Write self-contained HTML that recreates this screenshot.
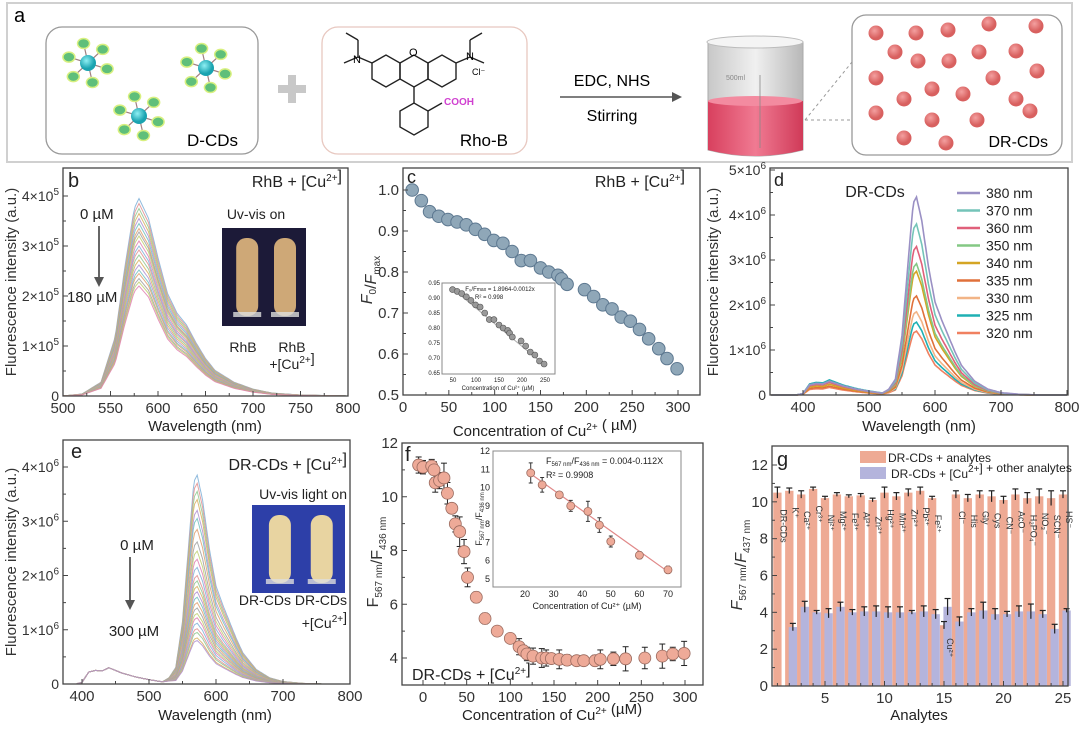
<!DOCTYPE html>
<html><head><meta charset="utf-8"><style>
html,body{margin:0;padding:0;background:#fff}
svg{display:block;font-family:"Liberation Sans",Arial,sans-serif}
</style></head><body>
<svg id="fig" width="1080" height="729" viewBox="0 0 1080 729" xmlns="http://www.w3.org/2000/svg">
<defs>
<linearGradient id="beakerG" x1="0" x2="1"><stop offset="0" stop-color="#c8c8c8"/><stop offset="0.5" stop-color="#f0f0f0"/><stop offset="1" stop-color="#b8b8b8"/></linearGradient>
<linearGradient id="pinkG" x1="0" x2="1"><stop offset="0" stop-color="#d8405e"/><stop offset="0.5" stop-color="#f07a92"/><stop offset="1" stop-color="#d03a58"/></linearGradient>
<radialGradient id="dotG" cx="0.4" cy="0.35"><stop offset="0" stop-color="#f4a0a0"/><stop offset="1" stop-color="#d8605f"/></radialGradient>
<radialGradient id="cyanG" cx="0.4" cy="0.35"><stop offset="0" stop-color="#8ff0f4"/><stop offset="1" stop-color="#1aa3b0"/></radialGradient>
</defs>
<!-- Panel a -->
<g>
<rect x="7" y="3" width="1065" height="159" fill="#fff" stroke="#d0d0d0" stroke-width="2"/>
<text x="14" y="22" font-size="20">a</text>
<rect x="46" y="27" width="212" height="127" rx="16" fill="#fff" stroke="#999" stroke-width="1.3"/>
<g id="dcds"></g>
<text x="238" y="146" font-size="17" text-anchor="end">D-CDs</text>
<g fill="#c8c8c8"><rect x="278" y="85" width="28" height="8"/><rect x="288" y="75" width="8" height="28"/></g>
<rect x="322" y="27" width="205" height="127" rx="16" fill="#fff" stroke="#e8c8c0" stroke-width="1.3"/>
<g fill="none" stroke="#222" stroke-width="1.4">
<polygon points="372,63 386,55 400,63 400,79 386,87 372,79"/>
<polygon points="400,63 414,55 428,63 428,79 414,87 400,79"/>
<polygon points="428,63 442,55 456,63 456,79 442,87 428,79"/>
<polygon points="400,111 414,103 428,111 428,127 414,135 400,127"/>
<line x1="414" y1="87" x2="414" y2="103"/>
<line x1="372" y1="63" x2="358" y2="57"/><line x1="358" y1="57" x2="344" y2="63"/><line x1="358" y1="57" x2="358" y2="40"/><line x1="358" y1="40" x2="346" y2="33"/>
<line x1="456" y1="63" x2="470" y2="57"/><line x1="470" y1="57" x2="484" y2="63"/><line x1="470" y1="57" x2="470" y2="40"/><line x1="470" y1="40" x2="482" y2="33"/>
<line x1="428" y1="111" x2="442" y2="103"/>
</g>
<text x="353" y="63" font-size="11">N</text>
<text x="409" y="56" font-size="11">O</text>
<text x="466" y="60" font-size="11">N</text>
<text x="472" y="75" font-size="9">Cl⁻</text>
<text x="444" y="105" font-size="10" fill="#d040d0" font-weight="bold">COOH</text>
<text x="508" y="146" font-size="17" text-anchor="end">Rho-B</text>
<text x="612" y="86" font-size="16" text-anchor="middle">EDC, NHS</text>
<line x1="560" y1="97" x2="680" y2="97" stroke="#555" stroke-width="1.5"/>
<polygon points="682,97 672,92 672,102" fill="#555"/>
<text x="612" y="121" font-size="16" text-anchor="middle">Stirring</text>
<g>
<path d="M708,42 L803,42 L803,150 Q755,162 708,150 Z" fill="url(#beakerG)" stroke="#aaa"/>
<ellipse cx="755" cy="42" rx="48" ry="6" fill="#f4f4f4" stroke="#bbb"/>
<path d="M708,101 Q755,108 803,101 L803,150 Q755,162 708,150 Z" fill="url(#pinkG)"/>
<ellipse cx="755" cy="101" rx="47" ry="5" fill="#f38ba0"/>
<text x="726" y="80" font-size="7" fill="#888">500ml</text>
<line x1="760" y1="75" x2="760" y2="148" stroke="#888" stroke-width="0.8"/>
</g>
<line x1="805" y1="120" x2="852" y2="120" stroke="#999" stroke-dasharray="3,3"/>
<line x1="805" y1="120" x2="852" y2="62" stroke="#999" stroke-dasharray="3,3"/>
<rect x="852" y="15" width="210" height="140" rx="14" fill="#fff" stroke="#999" stroke-width="1.3"/>
<g id="drdots"></g>
<text x="1048" y="147" font-size="16" text-anchor="end">DR-CDs</text>
</g>
<g id="charts"></g>
</svg>
<script>
// ---------- data ----------
const specWl = [500,520,540,555,565,575,580,590,600,610,620,630,640,650,660,680,700,720,750,800];
const specShapeB = [0,0.01,0.07,0.3,0.65,0.95,1.0,0.9,0.7,0.52,0.42,0.36,0.27,0.19,0.13,0.07,0.035,0.015,0.005,0];
const peaksB = [3.95,3.85,3.75,3.65,3.55,3.45,3.35,3.28,3.2,3.1,3.0,2.92,2.82,2.72,2.62,2.52,2.45,2.35,2.28,2.2];

const concC = [10,20,29,39,49,59,69,79,89,99,109,119,129,139,150,159,169,173,179,198,208,218,228,238,248,258,268,279,288,299];
const ratioC = [1.0,0.974,0.947,0.936,0.928,0.922,0.915,0.904,0.892,0.877,0.87,0.85,0.828,0.828,0.81,0.8,0.792,0.783,0.77,0.757,0.74,0.72,0.71,0.69,0.68,0.66,0.637,0.613,0.589,0.564];

const bandWl = [350,390,400,410,420,430,440,450,460,480,500,520,530,540];
const bandShape = [0,0,0.03,0.22,0.25,0.24,0.3,0.25,0.2,0.13,0.08,0.04,0.04,0.0];
const peakWl = [520,530,540,550,560,567,572,580,590,600,610,620,630,640,660,680,700,730,760,800];
const peakShape = [0,0.02,0.08,0.3,0.7,0.97,1.0,0.88,0.65,0.47,0.38,0.3,0.22,0.15,0.07,0.03,0.012,0.003,0,0];
const excLabels = ["380 nm","370 nm","360 nm","350 nm","340 nm","335 nm","330 nm","325 nm","320 nm"];
const peaksD = [4.4,3.8,3.3,2.92,2.75,2.2,1.85,1.62,1.42];
const bandsD = [1.1,1.1,1.0,1.0,0.85,0.7,0.7,1.2,0.6];
const colorsD = ["#9a90c4","#74c4b8","#e0607a","#84c884","#d4a524","#e0703a","#f2b486","#1fb0b4","#f08060"];

const peaksE = [3.85,3.7,3.55,3.4,3.2,3.05,2.85,2.62,2.45,2.3,2.15,2.0,1.9,1.8,1.7,1.6,1.5,1.4,1.3,1.22,1.12,1.02,0.95,0.85,0.8];

const concF = [-5,0,10,12.6,14,19,24,28,33,37,42,47,51,61,71,85,100,110,115,119,126,136,141,147,156,165,176,184,197,203,218,232,254,274,286,299];
const ratioF = [11.18,11.1,11.14,11.0,10.52,10.6,10.7,10.13,9.57,8.99,8.7,7.96,7.0,6.26,5.47,5.0,4.73,4.42,4.27,4.15,4.07,4.0,4.0,3.98,3.95,3.92,3.9,3.9,3.9,3.95,3.97,3.97,4.0,4.07,4.15,4.17];
const errF = [0.3,0.25,0.25,0.3,0.35,0.3,0.55,0.4,0.15,0.3,0.55,0.45,0.35,0.2,0.2,0.1,0.1,0.3,0.2,0.25,0.3,0.35,0.3,0.15,0.35,0.2,0.15,0.15,0.2,0.35,0.25,0.45,0.4,0.45,0.25,0.45];
const concFi = [22,26,32,36,42,46,50,60,70];
const ratioFi = [10.8,10.15,9.6,9.0,8.7,7.95,7.05,6.3,5.5];
const errFi = [0.55,0.4,0.1,0.3,0.55,0.4,0.3,0.2,0.2];

const analytes = [1,2,3,4,5,6,7,8,9,10,11,12,13,14,15,16,17,18,19,20,21,22,23,24,25];
const orangeG = [10.5,10.6,10.4,10.7,10.2,10.4,10.3,10.35,10.1,10.5,10.3,10.5,10.6,10.2,3.3,10.4,10.2,10.4,10.3,10.1,10.4,10.2,10.3,10.2,10.4];
const orangeErr = [0.3,0.15,0.2,0.1,0.1,0.1,0.08,0.1,0.1,0.3,0.2,0.2,0.2,0.1,0.2,0.2,0.2,0.2,0.3,0.2,0.3,0.3,0.4,0.4,0.2];
const blueG = [0,3.2,4.3,4.0,3.95,4.3,4.0,4.05,4.05,4.0,4.0,4.0,4.05,3.9,4.3,3.5,4.0,4.1,3.9,3.9,4.05,4.05,3.9,3.1,4.1];
const blueErr = [0,0.2,0.3,0.1,0.25,0.25,0.15,0.25,0.3,0.3,0.3,0.1,0.3,0.25,0.45,0.25,0.2,0.45,0.3,0.15,0.3,0.4,0.2,0.25,0.1];
const analyteNames = ["DR-CDs","K⁺","Ca²⁺","Cr³⁺","Ni²⁺","Mg²⁺","Fe³⁺","Al³⁺","Zn²⁺","Hg²⁺","Mn²⁺","Zn²⁺","Pb²⁺","Fe²⁺","Cu²⁺","Cl⁻","His","Gly","Cys","CN⁻","AcO⁻","H₂PO₄⁻","NO₃⁻","SCN⁻","HS⁻"];

const palette = ["#7fb0d8","#e09090","#90c890","#d8b060","#b090d0","#70c0c0","#e0a070","#a0a0a0","#c0d070","#e080b0"];
// ---------- helpers ----------
const NS = "http://www.w3.org/2000/svg";
const root = document.getElementById('charts');
function mk(parent, tag, attrs, name, text){
  const e = document.createElementNS(NS, tag);
  for (const k in attrs) e.setAttribute(k, attrs[k]);
  
  
  if (text !== undefined) e.textContent = text;
  parent.appendChild(e);
  return e;
}
function lin(d0,d1,r0,r1){ return v => r0 + (v-d0)*(r1-r0)/(d1-d0); }
function interp(xs, ys, x){
  if (x <= xs[0]) return ys[0];
  for (let i=1;i<xs.length;i++){ if (x <= xs[i]) { const t=(x-xs[i-1])/(xs[i]-xs[i-1]); return ys[i-1]+t*(ys[i]-ys[i-1]); } }
  return ys[ys.length-1];
}
function frame(g, x0,y0,x1,y1, name){
  mk(g,'rect',{x:x0,y:y0,width:x1-x0,height:y1-y0,fill:'none',stroke:'#444','stroke-width':1.3},name);
}
function xTicks(g, sx, vals, labels, yAxis, minor, fs, name){
  vals.forEach((v,i)=>{
    mk(g,'line',{x1:sx(v),x2:sx(v),y1:yAxis,y2:yAxis-5,stroke:'#444'},'x-tick');
    mk(g,'text',{x:sx(v),y:yAxis+17,'font-size':fs||15,'text-anchor':'middle',fill:'#333'},name||'x-tick-label',labels[i]);
  });
  (minor||[]).forEach(v=>mk(g,'line',{x1:sx(v),x2:sx(v),y1:yAxis,y2:yAxis-3,stroke:'#444'},'x-minor-tick'));
}
function yTicks(g, sy, vals, labels, xAxis, minor, fs){
  vals.forEach((v,i)=>{
    mk(g,'line',{x1:xAxis,x2:xAxis+5,y1:sy(v),y2:sy(v),stroke:'#444'},'y-tick');
    const t = mk(g,'text',{x:xAxis-4,y:sy(v)+5,'font-size':fs||14,'text-anchor':'end',fill:'#333'},'y-tick-label');
    t.innerHTML = labels[i];
  });
  (minor||[]).forEach(v=>mk(g,'line',{x1:xAxis,x2:xAxis+3,y1:sy(v),y2:sy(v),stroke:'#444'},'y-minor-tick'));
}
function yTitle(g, x, y, html, name, fs){
  const t = mk(g,'text',{x:x,y:y,'font-size':fs||15,'text-anchor':'middle',transform:`rotate(-90 ${x} ${y})`,fill:'#333'},name);
  t.innerHTML = html;
}
function txt(g,x,y,html,name,fs,anchor,extra){
  const a = Object.assign({x:x,y:y,'font-size':fs||15,'text-anchor':anchor||'start',fill:'#222'}, extra||{});
  const t = mk(g,'text',a,name); t.innerHTML = html; return t;
}
const sup = s => `<tspan dy="-6" font-size="10">${s}</tspan><tspan dy="6"></tspan>`;
const sub = s => `<tspan dy="4" font-size="10">${s}</tspan><tspan dy="-4"></tspan>`;
function arrowDown(g,x,y0,y1,name){
  mk(g,'line',{x1:x,x2:x,y1:y0,y2:y1-8,stroke:'#555','stroke-width':1.8},name);
  mk(g,'polygon',{points:`${x},${y1} ${x-5},${y1-10} ${x+5},${y1-10}`,fill:'#555'},name+'-head');
}
function tubes(g,x,y,w,h,bg,liq,name){
  mk(g,'rect',{x:x,y:y,width:w,height:h,fill:bg},name);
  [0.3,0.75].forEach(f=>{
    const cx = x+w*f;
    mk(g,'rect',{x:cx-11,y:y+10,width:22,height:h-20,rx:10,fill:liq,opacity:0.95},'tube');
    mk(g,'rect',{x:cx-14,y:y+h-14,width:28,height:5,fill:'#ddd',opacity:0.8},'tube-base');
  });
}

// ---------- Panel a decorations ----------
(function(){
  const g = document.getElementById('dcds');
  const cents = [[88,63],[206,68],[139,116]];
  cents.forEach(c=>{
    for (let k=0;k<6;k++){
      const a = k*Math.PI/3+0.3, bx=c[0]+20*Math.cos(a), by=c[1]+20*Math.sin(a);
      mk(g,'line',{x1:c[0],y1:c[1],x2:bx,y2:by,stroke:'#a08080','stroke-width':1.2},'dendrimer-arm');
      mk(g,'ellipse',{cx:bx,cy:by,rx:6,ry:5,fill:'#5fbf7a',stroke:'#d8f080','stroke-width':1.5},'amine-group');
    }
    mk(g,'circle',{cx:c[0],cy:c[1],r:8,fill:'url(#cyanG)'},'carbon-dot-core');
  });
  const d = document.getElementById('drdots');
  const pts = [[876,33],[916,33],[948,30],[989,24],[1036,26],[895,52],[918,61],[949,61],[979,52],[1016,51],[876,78],[932,89],[993,78],[1037,71],[904,99],[963,94],[1016,99],[876,113],[932,120],[977,120],[1030,111],[904,138],[946,143]];
  pts.forEach(p=>mk(d,'circle',{cx:p[0],cy:p[1],r:7.5,fill:'url(#dotG)'},'dr-cd-particle'));
})();

// ---------- Panel b ----------
(function(){
  const g = mk(root,'g',{},'panel-b-rhb-spectra');
  const sx = lin(500,800,63,348), sy = lin(0,1e5,396,346);
  peaksB.forEach((p,i)=>{
    let d='';
    for (let w=500; w<=800; w+=2){ const v = p*1e5*interp(specWl,specShapeB,w); d += (d?'L':'M')+sx(w).toFixed(1)+','+sy(v).toFixed(1); }
    mk(g,'path',{d:d,fill:'none',stroke:palette[i%palette.length],'stroke-width':1,opacity:0.85},'spectrum-line');
  });
  frame(g,63,168,348,396,'plot-frame');
  xTicks(g,sx,[500,550,600,650,700,750,800],['500','550','600','650','700','750','800'],396,[525,575,625,675,725,775]);
  yTicks(g,sy,[0,1e5,2e5,3e5,4e5],['0','1×10'+sup('5'),'2×10'+sup('5'),'3×10'+sup('5'),'4×10'+sup('5')],63,[0.5e5,1.5e5,2.5e5,3.5e5]);
  txt(g,205,431,'Wavelength (nm)','x-axis-title',15,'middle');
  yTitle(g,16,282,'Fluorescence intensity (a.u.)','y-axis-title');
  txt(g,68,187,'b','panel-label-b',20);
  txt(g,342,187,'RhB + [Cu'+sup('2+')+']','condition-label',16,'end');
  txt(g,80,219,'0 µM','start-concentration-label',15);
  arrowDown(g,99,226,287,'concentration-arrow');
  txt(g,67,302,'180 µM','end-concentration-label',15);
  txt(g,256,219,'Uv-vis on','photo-caption',14,'middle');
  tubes(g,222,228,84,98,'#1c1a38','#d8b07a','tube-photo');
  txt(g,243,352,'RhB','tube-label-rhb',14,'middle');
  txt(g,292,352,'RhB','tube-label-rhb-cu',14,'middle');
  txt(g,292,369,'+[Cu'+sup('2+')+']','tube-label-cu',14,'middle');
})();

// ---------- Panel c ----------
(function(){
  const g = mk(root,'g',{},'panel-c-quenching-ratio');
  const sx = lin(0,300,403,678), sy = lin(0.5,1.0,395,190);
  frame(g,403,168,700,395,'plot-frame');
  concC.forEach((c,i)=>mk(g,'circle',{cx:sx(c),cy:sy(ratioC[i]),r:6.3,fill:'#8fa7b8',stroke:'#5d7890','stroke-width':1},'data-point'));
  xTicks(g,sx,[0,50,100,150,200,250,300],['0','50','100','150','200','250','300'],395,[25,75,125,175,225,275]);
  yTicks(g,sy,[0.5,0.6,0.7,0.8,0.9,1.0],['0.5','0.6','0.7','0.8','0.9','1.0'],403,[0.55,0.65,0.75,0.85,0.95],15);
  txt(g,545,436,'Concentration of Cu'+sup('2+')+' ( µM)','x-axis-title',15,'middle');
  yTitle(g,372,280,'<tspan font-style="italic">F</tspan>'+sub('0')+'/<tspan font-style="italic">F</tspan>'+sub('max'),'y-axis-title',16);
  txt(g,407,183,'c','panel-label-c',18);
  txt(g,685,187,'RhB + [Cu'+sup('2+')+']','condition-label',16,'end');
  // inset
  const ix = lin(50,250,453,545), iy = lin(0.65,0.95,373,283);
  mk(g,'rect',{x:442,y:283,width:113,height:91,fill:'#fff',stroke:'#888'},'inset-frame');
  mk(g,'line',{x1:ix(50),y1:iy(0.93),x2:ix(250),y2:iy(0.675),stroke:'#aaa'},'inset-fit-line');
  concC.forEach((c,i)=>{ if(c>=45&&c<=255) mk(g,'circle',{cx:ix(c),cy:iy(ratioC[i]),r:3,fill:'#999',stroke:'#555','stroke-width':0.6},'inset-point'); });
  [50,100,150,200,250].forEach(v=>txt(g,ix(v),382,String(v),'inset-x-tick-label',6,'middle'));
  [0.65,0.70,0.75,0.80,0.85,0.90,0.95].forEach(v=>txt(g,440,iy(v)+2,v.toFixed(2),'inset-y-tick-label',6,'end'));
  txt(g,498,390,'Concentration of Cu²⁺ (µM)','inset-x-title',6,'middle');
  txt(g,500,291,'F₀/F<tspan font-size="5">max</tspan> = 1.8964-0.0012x','inset-equation',6,'middle');
  txt(g,475,299,'R² = 0.998','inset-r2',6,'start');
})();

// ---------- Panel d ----------
(function(){
  const g = mk(root,'g',{},'panel-d-excitation-spectra');
  const sx = lin(400,800,803,1067), sy = lin(0,1e6,395,350);
  for (let i=peaksD.length-1;i>=0;i--){
    let d='';
    for (let w=352; w<=800; w+=2){
      const v = (bandsD[i]*0.28*interp(bandWl,bandShape,w)/0.3 + peaksD[i]*interp(peakWl,peakShape,w))*1e6;
      d += (d?'L':'M')+sx(w).toFixed(1)+','+sy(v).toFixed(1);
    }
    mk(g,'path',{d:d,fill:'none',stroke:colorsD[i],'stroke-width':1.6},'spectrum-'+excLabels[i].replace(' ','-'));
  }
  frame(g,770,168,1068,395,'plot-frame');
  xTicks(g,sx,[400,500,600,700,800],['400','500','600','700','800'],395,[450,550,650,750]);
  yTicks(g,sy,[0,1e6,2e6,3e6,4e6,5e6],['0','1×10'+sup('6'),'2×10'+sup('6'),'3×10'+sup('6'),'4×10'+sup('6'),'5×10'+sup('6')],770,[0.5e6,1.5e6,2.5e6,3.5e6,4.5e6]);
  txt(g,919,431,'Wavelength (nm)','x-axis-title',15,'middle');
  yTitle(g,718,282,'Fluorescence intensity (a.u.)','y-axis-title');
  txt(g,774,186,'d','panel-label-d',18);
  txt(g,875,197,'DR-CDs','condition-label',16,'middle');
  excLabels.forEach((l,i)=>{
    const y = 193 + i*17.5;
    mk(g,'line',{x1:957,x2:980,y1:y,y2:y,stroke:colorsD[i],'stroke-width':2.5},'legend-swatch');
    txt(g,986,y+5,l,'legend-entry',14);
  });
})();

// ---------- Panel e ----------
(function(){
  const g = mk(root,'g',{},'panel-e-drcds-cu-spectra');
  const sx = lin(400,800,82,350), sy = lin(0,1e6,684,629.75);
  peaksE.forEach((p,i)=>{
    let d='';
    for (let w=392; w<=800; w+=2){
      const v = (interp(bandWl,bandShape,w) + p*interp(peakWl,peakShape,w))*1e6;
      d += (d?'L':'M')+sx(w).toFixed(1)+','+sy(v).toFixed(1);
    }
    mk(g,'path',{d:d,fill:'none',stroke:palette[i%palette.length],'stroke-width':1,opacity:0.85},'spectrum-line');
  });
  frame(g,63,440,350,684,'plot-frame');
  xTicks(g,sx,[400,500,600,700,800],['400','500','600','700','800'],684,[450,550,650,750]);
  yTicks(g,sy,[0,1e6,2e6,3e6,4e6],['0','1×10'+sup('6'),'2×10'+sup('6'),'3×10'+sup('6'),'4×10'+sup('6')],63,[0.5e6,1.5e6,2.5e6,3.5e6]);
  txt(g,215,720,'Wavelength (nm)','x-axis-title',15,'middle');
  yTitle(g,16,562,'Fluorescence intensity (a.u.)','y-axis-title');
  txt(g,71,458,'e','panel-label-e',20);
  txt(g,347,470,'DR-CDs + [Cu'+sup('2+')+']','condition-label',16,'end');
  txt(g,347,499,'Uv-vis light on','photo-caption',14,'end');
  txt(g,137,550,'0 µM','start-concentration-label',15,'middle');
  arrowDown(g,130,557,610,'concentration-arrow');
  txt(g,134,636,'300 µM','end-concentration-label',15,'middle');
  tubes(g,252,505,93,88,'#2d3fa8','#f2dca0','tube-photo');
  txt(g,347,605,'DR-CDs DR-CDs','tube-labels',14,'end');
  txt(g,347,628,'+[Cu'+sup('2+')+']','tube-label-cu',14,'end');
})();

// ---------- Panel f ----------
(function(){
  const g = mk(root,'g',{},'panel-f-ratio-vs-cu');
  const sx = lin(0,300,423,685), sy = lin(4,12,658,443);
  frame(g,402,443,703,685,'plot-frame');
  concF.forEach((c,i)=>{
    const x=sx(c), yt=sy(ratioF[i]+errF[i]), yb=sy(ratioF[i]-errF[i]);
    mk(g,'line',{x1:x,x2:x,y1:yt,y2:yb,stroke:'#222','stroke-width':1},'error-bar');
    mk(g,'line',{x1:x-3,x2:x+3,y1:yt,y2:yt,stroke:'#222'},'error-cap');
    mk(g,'line',{x1:x-3,x2:x+3,y1:yb,y2:yb,stroke:'#222'},'error-cap');
  });
  concF.forEach((c,i)=>mk(g,'circle',{cx:sx(c),cy:sy(ratioF[i]),r:6,fill:'#eeaa98',stroke:'#9a6a5e','stroke-width':0.8},'data-point'));
  xTicks(g,sx,[0,50,100,150,200,250,300],['0','50','100','150','200','250','300'],685,[25,75,125,175,225,275]);
  yTicks(g,sy,[4,6,8,10,12],['4','6','8','10','12'],402,[5,7,9,11],15);
  txt(g,552,720,'Concentration of Cu'+sup('2+')+' (µM)','x-axis-title',15,'middle');
  yTitle(g,378,562,'F'+sub('567 nm')+'/F'+sub('436 nm'),'y-axis-title',16);
  txt(g,405,461,'f','panel-label-f',20);
  txt(g,412,680,'DR-CDs + [Cu'+sup('2+')+']','condition-label',16);
  // inset
  const ix = lin(20,70,525,668), iy = lin(5,12,579,451);
  mk(g,'rect',{x:493,y:451,width:188,height:136,fill:'#fff',stroke:'#888'},'inset-frame');
  mk(g,'line',{x1:ix(22),y1:iy(10.75),x2:ix(70),y2:iy(5.4),stroke:'#e08888','stroke-width':1.2},'inset-fit-line');
  concFi.forEach((c,i)=>{
    const x=ix(c), yt=iy(ratioFi[i]+errFi[i]), yb=iy(ratioFi[i]-errFi[i]);
    mk(g,'line',{x1:x,x2:x,y1:yt,y2:yb,stroke:'#333'},'inset-error-bar');
    mk(g,'line',{x1:x-2,x2:x+2,y1:yt,y2:yt,stroke:'#333'},'inset-error-cap');
    mk(g,'line',{x1:x-2,x2:x+2,y1:yb,y2:yb,stroke:'#333'},'inset-error-cap');
    mk(g,'circle',{cx:x,cy:iy(ratioFi[i]),r:4,fill:'#eeaa98',stroke:'#9a6a5e','stroke-width':0.8},'inset-point');
  });
  [20,30,40,50,60,70].forEach(v=>txt(g,ix(v),597,String(v),'inset-x-tick-label',9,'middle'));
  [5,6,7,8,9,10,11,12].forEach(v=>txt(g,490,iy(v)+3,String(v),'inset-y-tick-label',9,'end'));
  txt(g,587,609,'Concentration of Cu²⁺ (µM)','inset-x-title',9,'middle');
  yTitle(g,482,519,'F<tspan font-size="6" dy="2">567 nm</tspan><tspan dy="-2">/F</tspan><tspan font-size="6" dy="2">436 nm</tspan>','inset-y-title',9);
  txt(g,546,464,'F<tspan font-size="6" dy="2">567 nm</tspan><tspan dy="-2">/F</tspan><tspan font-size="6" dy="2">436 nm</tspan><tspan dy="-2"> = 0.004-0.112X</tspan>','inset-equation',9);
  txt(g,546,478,'R² = 0.9908','inset-r2',9);
})();

// ---------- Panel g ----------
(function(){
  const g = mk(root,'g',{},'panel-g-selectivity-bars');
  const sx = lin(5,25,825,1063), sy = lin(0,12,686,465);
  const bw = 0.7*(sx(2)-sx(1));
  analytes.forEach((a,i)=>{
    mk(g,'rect',{x:sx(a)-bw/2,y:sy(orangeG[i]),width:bw,height:sy(0)-sy(orangeG[i]),fill:'#eeaa94'},'bar-analyte-'+a);
  });
  analytes.forEach((a,i)=>{
    if (blueG[i] <= 0) return;
    mk(g,'rect',{x:sx(a+0.3)-bw/2,y:sy(blueG[i]),width:bw,height:sy(0)-sy(blueG[i]),fill:'#b4b4dc'},'bar-cu-analyte-'+a);
  });
  analytes.forEach((a,i)=>{
    [[a,orangeG[i],orangeErr[i]],[a+0.3,blueG[i],blueErr[i]]].forEach(q=>{
      if (q[1] <= 0) return;
      const x=sx(q[0]), yt=sy(q[1]+q[2]), yb=sy(q[1]-q[2]);
      mk(g,'line',{x1:x,x2:x,y1:yt,y2:yb,stroke:'#222','stroke-width':1.2},'error-bar');
      mk(g,'line',{x1:x-3,x2:x+3,y1:yt,y2:yt,stroke:'#222','stroke-width':1.2},'error-cap');
    });
    const lx = sx(a)+3, ly = a===15 ? sy(2.6) : sy(orangeG[i]-0.9);
    txt(g,lx,ly,analyteNames[i],'analyte-label',9,'start',{transform:`rotate(90 ${lx} ${ly})`,fill:'#333'});
  });
  frame(g,772,446,1068,686,'plot-frame');
  xTicks(g,sx,[5,10,15,20,25],['5','10','15','20','25'],686,analytes.filter(v=>v%5!==0));
  yTicks(g,sy,[0,2,4,6,8,10,12],['0','2','4','6','8','10','12'],772,[1,3,5,7,9,11,13].filter(v=>v<=12.9),15);
  txt(g,919,720,'Analytes','x-axis-title',15,'middle');
  yTitle(g,742,565,'<tspan font-style="italic">F</tspan>'+sub('567 nm')+'/<tspan font-style="italic">F</tspan>'+sub('437 nm'),'y-axis-title',16);
  txt(g,777,466,'g','panel-label-g',20);
  mk(g,'rect',{x:860,y:451,width:26,height:12,fill:'#eeaa94'},'legend-swatch-analytes');
  txt(g,888,462,'DR-CDs + analytes','legend-entry',12);
  mk(g,'rect',{x:860,y:467,width:26,height:12,fill:'#b4b4dc'},'legend-swatch-cu-analytes');
  txt(g,891,478,'DR-CDs + [Cu'+sup('2+')+'] + other analytes','legend-entry',12);
})();
</script>
</body></html>
